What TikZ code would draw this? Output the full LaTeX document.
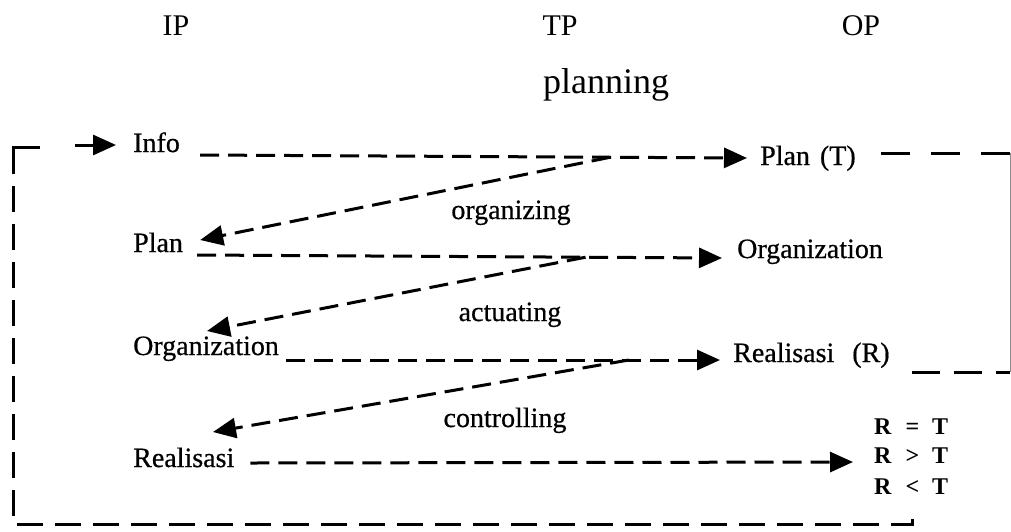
\documentclass[tikz,border=0pt]{standalone}
\usepackage{fontspec}
\setmainfont{Liberation Serif}
\newfontfamily\scanfont[FakeBold=0.6]{Liberation Serif}
\usetikzlibrary{arrows.meta,calc}
\begin{document}
\begin{tikzpicture}[x=1pt,y=-1pt,
  hdr/.style={anchor=base,inner sep=0pt,font=\fontsize{30}{36}\selectfont},
  phase/.style={anchor=base,inner sep=0pt,font=\fontsize{36}{42}\selectfont},
  lbl/.style={anchor=base west,inner sep=0pt,font=\scanfont\fontsize{28}{32}\selectfont},
  act/.style={anchor=base,inner sep=0pt,font=\scanfont\fontsize{28}{32}\selectfont},
  cmp/.style={anchor=base west,inner sep=0pt,font=\bfseries\fontsize{24}{28}\selectfont},
  flow/.style={line width=3pt,dash pattern=on 19pt off 9pt,-{Triangle[length=23pt,width=20pt]}},
  tipline/.style={line width=3pt,-{Triangle[length=23pt,width=20pt]}},
  loopline/.style={line width=3pt,dash pattern=on 26pt off 12pt},
  corner/.style={line width=3pt},
  fbtop/.style={line width=3pt,dash pattern=on 29pt off 21pt},
  fbbot/.style={line width=3pt,dash pattern=on 28pt off 14pt},
  edgeline/.style={line width=1pt,black!45}
]
\useasboundingbox (0,0) rectangle (1011,531);

% column headings
\node[hdr] (ip) at (176,35) {IP};
\node[hdr] (tp) at (560,35) {TP};
\node[hdr] (op) at (861,35) {OP};
\node[phase] (pl) at (606,93) {planning};

% items
\node[lbl] (info)  at (133,152) {Info};
\node[lbl] (planT) at (760,165) {Plan\hspace{10pt}(T)};
\node[lbl] (plan)  at (133,252) {Plan};
\node[lbl] (orgR)  at (737,258) {Organization};
\node[lbl] (orgL)  at (133,355) {Organization};
\node[lbl] (realR) at (733,362) {Realisasi\hspace{18pt}(R)};
\node[lbl] (realL) at (133,467) {Realisasi};
\node[cmp] (req) at (874,434) {R\hspace{14pt}=\hspace{13pt}T};
\node[cmp] (rgt) at (874,463) {R\hspace{14pt}>\hspace{13pt}T};
\node[cmp] (rlt) at (874,494) {R\hspace{14pt}<\hspace{13pt}T};

% function labels
\node[act] (org)  at (511,219) {organizing};
\node[act] (actg) at (510,321) {actuating};
\node[act] (ctrl) at (505,427) {controlling};

% Info -> Plan (T), branch back to Plan
\coordinate (a1) at ($(info.base east)+(20,3)$);
\coordinate (a2) at ($(planT.base west)+(-13,-7)$);
\draw[flow] (a1) -- (a2);
\draw[flow] ($(a1)!0.75!(a2)$) -- ($(plan.base east)+(17,-12)$);

% Plan -> Organization, branch back to Organization
\coordinate (b1) at ($(plan.base east)+(14,3)$);
\coordinate (b2) at ($(orgR.base west)+(-15,0)$);
\draw[flow] (b1) -- (b2);
\draw[flow] ($(b1)!0.74!(b2)$) -- ($(orgL.base west)+(74,-24)$);

% Organization -> Realisasi (R), branch back to Realisasi
\coordinate (c1) at ($(orgL.base east)+(7,5)$);
\coordinate (c2) at ($(realR.base west)+(-13,-2)$);
\draw[flow] (c1) -- (c2);
\draw[flow] ($(c1)!0.79!(c2)$) -- ($(realL.base west)+(80,-35)$);

% Realisasi -> comparison
\draw[flow] ($(realL.base east)+(16,-4)$) -- ($(rgt.base west)+(-21,-1)$);

% feedback loop back to Info
\coordinate (tl) at (13,147);
\coordinate (bl) at (13,524);
\draw[corner] ($(tl)+(0,27)$) -- (tl) -- ($(tl)+(27,0)$);
\draw[loopline] ($(tl)+(0,39)$) -- (bl) -| ($(rlt.base west)+(38,18)$);
\draw[tipline] ($(info.base west)+(-58,-7)$) -- ($(info.base west)+(-17,-7)$);

% comparison link between Plan (T) and Realisasi (R)
\coordinate (re1) at (1010,153);
\coordinate (re2) at (1010,372);
\draw[fbtop] ($(planT.base east)+(25,-12)$) -- (re1);
\draw[fbbot] ($(realR.base east)+(22,10)$) -- (re2);
\draw[edgeline] (re1) -- (re2);
\end{tikzpicture}
\end{document}
